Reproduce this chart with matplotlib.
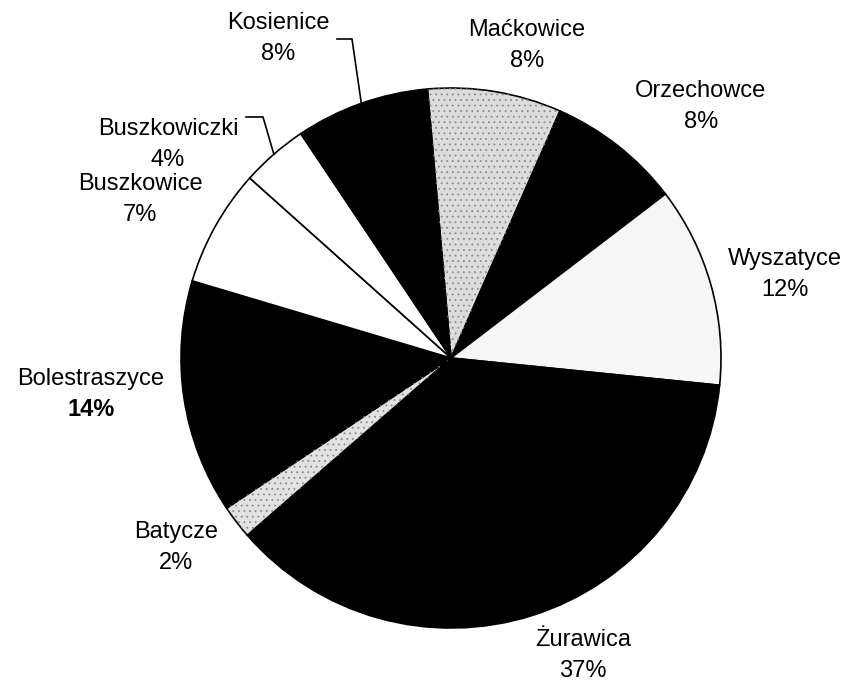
import matplotlib
matplotlib.use('Agg')
import matplotlib.pyplot as plt
from matplotlib.patches import Wedge
import numpy as np

# ---- data ----
names = ['Maćkowice', 'Orzechowce', 'Wyszatyce', 'Żurawica', 'Batycze',
         'Bolestraszyce', 'Buszkowice', 'Buszkowiczki', 'Kosienice']
shares = [8, 8, 12, 37, 2, 14, 7, 4, 8]
pct_labels = ['8%', '8%', '12%', '37%', '2%', '14%', '7%', '4%', '8%']

# ---- style / layout ----
fills = ['#dcdcdc', '#000000', '#f6f6f6', '#000000', '#e2e2e2',
         '#000000', '#ffffff', '#ffffff', '#000000']
hatches = ['...', '', '', '', '...', '', '', '', '']
label_centers = {  # pixel coords (x, y from top)
    'Maćkowice': (527, 45), 'Orzechowce': (701, 106), 'Wyszatyce': (785, 274),
    'Żurawica': (583, 655), 'Batycze': (176, 547), 'Bolestraszyce': (91, 394),
    'Buszkowice': (140, 199), 'Buszkowiczki': (168, 144), 'Kosienice': (278, 38),
}
leaders = {  # elbow points (pixel coords), end goes to wedge edge
    'Kosienice': [(337, 39), (352, 39)],
    'Buszkowiczki': [(246, 117), (263, 117)],
}
bold_pct = {'Bolestraszyce'}

W, H = 853, 689
fig = plt.figure(figsize=(W / 100, H / 100), dpi=100)
ax = fig.add_axes([0, 0, 1, 1])
plt.rcParams['hatch.linewidth'] = 0.6

cx, cy, R = 451, H - 358, 270
wedges, _ = ax.pie(shares, colors=fills, startangle=95, counterclock=False,
                   center=(cx, cy), radius=R, frame=True,
                   wedgeprops=dict(edgecolor='black', linewidth=1.2))
for w, h in zip(wedges, hatches):
    if h:
        ov = Wedge((cx, cy), R, w.theta1, w.theta2, facecolor='none',
                   edgecolor='#8a8a8a', hatch=h, linewidth=0)
        ax.add_patch(ov)

ax.set_xlim(0, W)
ax.set_ylim(0, H)
ax.set_aspect('equal')
ax.axis('off')

font = 'Liberation Sans'
fs = 17
for name, pct, w in zip(names, pct_labels, wedges):
    x, y = label_centers[name]
    ax.text(x, H - (y - 15), name, ha='center', va='center', fontsize=fs,
            family=font, color='black')
    ax.text(x, H - (y + 16), pct, ha='center', va='center', fontsize=fs,
            family=font, color='black',
            fontweight='bold' if name in bold_pct else 'normal')
    if name in leaders:
        mid = np.deg2rad((w.theta1 + w.theta2) / 2)
        ex, ey = cx + R * np.cos(mid), cy + R * np.sin(mid)
        pts = leaders[name]
        xs = [p[0] for p in pts] + [ex]
        ys = [H - p[1] for p in pts] + [ey]
        ax.plot(xs, ys, color='black', linewidth=1.2)

fig.savefig('out.png', dpi=100)
